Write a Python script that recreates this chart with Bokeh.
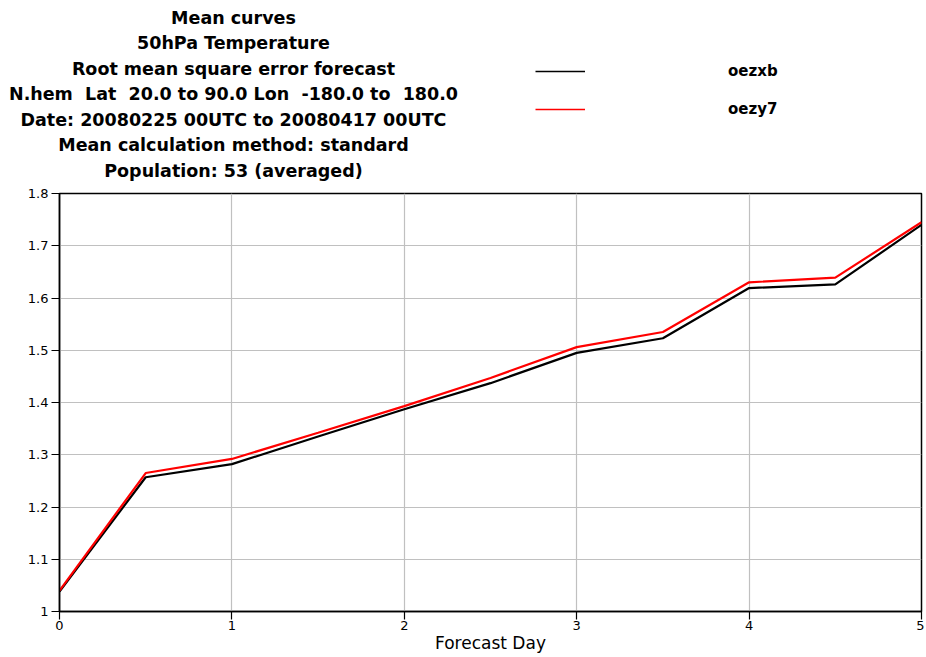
from bokeh.plotting import figure
from bokeh.models import (Label, Legend, LegendItem, FixedTicker, NumeralTickFormatter,
                          Range1d)
from bokeh.embed import file_html
from bokeh.resources import INLINE

# ---- data ----
forecast_day = [0, 0.5, 1, 1.5, 2, 2.5, 3, 3.5, 4, 4.5, 5]
oezxb = [1.038, 1.257, 1.282, 1.335, 1.387, 1.437, 1.495, 1.523, 1.619, 1.626, 1.740]
oezy7 = [1.040, 1.265, 1.292, 1.342, 1.393, 1.447, 1.506, 1.535, 1.630, 1.639, 1.745]
series_names = ["oezxb", "oezy7"]
series_values = [oezxb, oezy7]
series_colors = ["black", "red"]
x_ticks = [0, 1, 2, 3, 4, 5]
y_ticks = [1.0, 1.1, 1.2, 1.3, 1.4, 1.5, 1.6, 1.7, 1.8]
NB = "\u00a0"
title_lines = [
    "Mean curves",
    "50hPa Temperature",
    "Root mean square error forecast",
    f"N.hem {NB}Lat {NB}20.0 to 90.0 Lon {NB}-180.0 to {NB}180.0",
    "Date: 20080225 00UTC to 20080417 00UTC",
    "Mean calculation method: standard",
    "Population: 53 (averaged)",
]
x_label = "Forecast Day"

FONT = "DejaVu Sans"
W = 924
TOP_H = 185
MAIN_H = 470

# ---------- header (titles + legend), its own root so its frame spans the full width ----------
# its y range lies away from the series values, so its sample renderers only feed the legend
head = figure(width=W, height=TOP_H, output_backend="svg", toolbar_location=None,
              x_range=Range1d(0, 5), y_range=Range1d(0, 1),
              x_axis_type=None, y_axis_type=None,
              min_border=0, min_border_left=0, min_border_right=0,
              min_border_top=0, min_border_bottom=0)
head.outline_line_color = None
head.grid.visible = False
head.background_fill_color = "white"
head.border_fill_color = "white"

for i, line in enumerate(title_lines):
    yc = 17 + 25.5 * i
    head.add_layout(Label(x=233, y=TOP_H - yc, x_units="screen", y_units="screen",
                          text=line, text_align="center", text_baseline="middle",
                          text_font=FONT, text_font_style="bold", text_font_size="17.5px",
                          text_color="black"))

leg_r = [head.line(forecast_day, vals, line_color=c, line_width=1.6)
         for vals, c in zip(series_values, series_colors)]
legend = Legend(items=[LegendItem(label=n, renderers=[r]) for n, r in zip(series_names, leg_r)],
                location=(535, TOP_H - 119), orientation="vertical",
                glyph_width=50, glyph_height=20, label_standoff=143,
                spacing=18, padding=0, margin=0,
                border_line_color=None, background_fill_alpha=0,
                label_text_font=FONT, label_text_font_style="bold",
                label_text_font_size="15px", label_text_color="black")
head.add_layout(legend, "center")

# ---------- main chart ----------
p = figure(width=W, height=MAIN_H, output_backend="svg", toolbar_location=None,
           x_range=Range1d(0, 5), y_range=Range1d(1.0, 1.8),
           min_border_left=59, min_border_right=3, min_border_top=8,
           min_border_bottom=44)
p.outline_line_color = "black"
p.outline_line_width = 1.5
p.background_fill_color = "white"
p.border_fill_color = "white"

for ax in (p.xaxis[0], p.yaxis[0]):
    ax.axis_line_color = "black"
    ax.axis_line_width = 1.5
    ax.major_tick_line_color = "black"
    ax.major_tick_line_width = 1.2
    ax.major_tick_in = 0
    ax.major_tick_out = 8
    ax.minor_tick_line_color = None
    ax.major_label_text_font = FONT
    ax.major_label_text_font_size = "13px"
    ax.major_label_text_color = "black"

p.xaxis.ticker = FixedTicker(ticks=x_ticks)
p.yaxis.ticker = FixedTicker(ticks=y_ticks)
p.yaxis.formatter = NumeralTickFormatter(format="0.[0]")
p.xaxis.formatter = NumeralTickFormatter(format="0")
p.xaxis.major_label_standoff = 1
p.yaxis.major_label_standoff = 3
p.xaxis.axis_label = x_label
p.xaxis.axis_label_text_font = FONT
p.xaxis.axis_label_text_font_style = "normal"
p.xaxis.axis_label_text_font_size = "17px"
p.xaxis.axis_label_text_color = "black"
p.xaxis.axis_label_standoff = 0

p.xgrid.grid_line_color = "#c0c0c0"
p.ygrid.grid_line_color = "#c0c0c0"
p.xgrid.grid_line_width = 1.2
p.ygrid.grid_line_width = 1.2

for vals, c in zip(series_values, series_colors):
    p.line(forecast_day, vals, line_color=c, line_width=2.2)

open("out.html", "w").write(file_html([head, p], INLINE))
